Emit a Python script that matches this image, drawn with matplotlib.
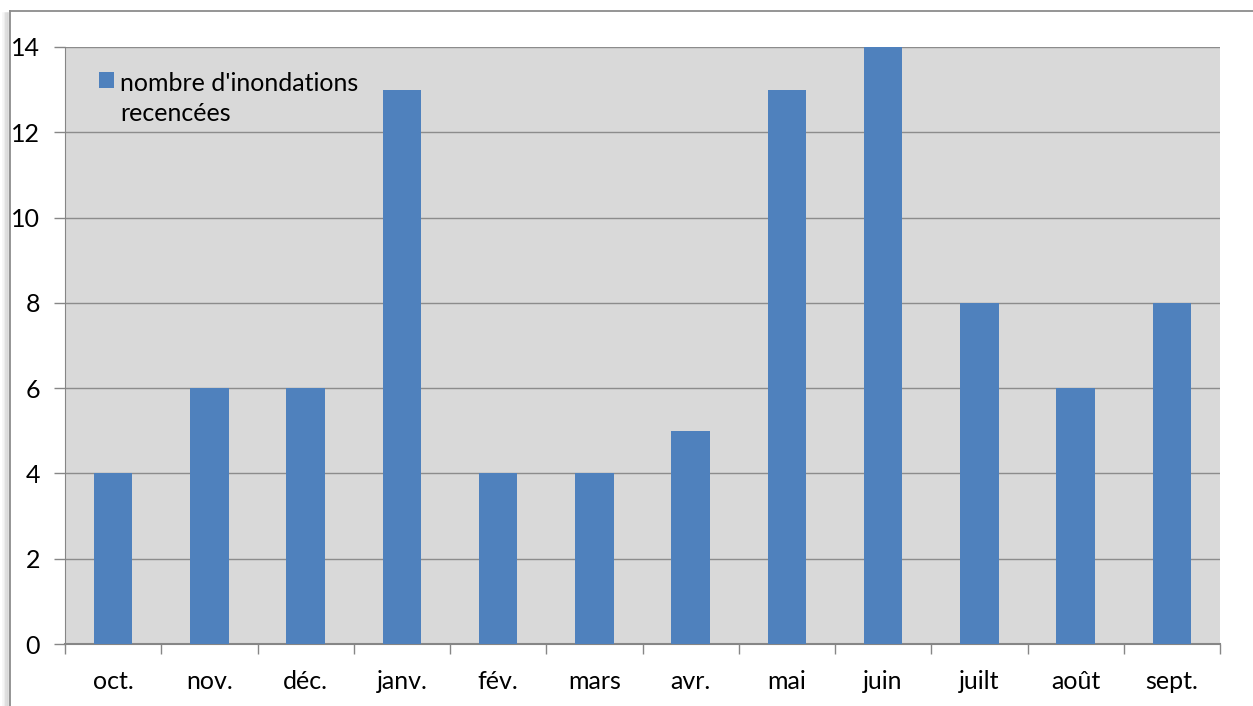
import matplotlib
matplotlib.use("Agg")
import matplotlib.pyplot as plt
from matplotlib.patches import Patch, Rectangle
from matplotlib.lines import Line2D
from matplotlib.legend_handler import HandlerBase

months = ["oct.", "nov.", "déc.", "janv.", "fév.", "mars", "avr.", "mai", "juin", "juilt", "août", "sept."]
values = [4, 6, 6, 13, 4, 4, 5, 13, 14, 8, 6, 8]
yticks = [0, 2, 4, 6, 8, 10, 12, 14]
series_label = "nombre d'inondations\nrecencées"

plt.rcParams['font.family'] = ['Lato', 'DejaVu Sans']
FS = 18
BAR_COLOR = "#4f81bd"


class TopSquareHandler(HandlerBase):
    """Draws the legend square aligned with the first text line."""
    def __init__(self, dy=0, **kw):
        super().__init__(**kw)
        self.dy = dy

    def create_artists(self, legend, orig_handle, xdescent, ydescent, width, height, fontsize, trans):
        r = Rectangle((-xdescent, -ydescent + self.dy), width, height,
                      facecolor=orig_handle.get_facecolor(), edgecolor="none", transform=trans)
        return [r]


W, H = 1253, 706
fig = plt.figure(figsize=(W / 100, H / 100), dpi=100)
fig.patch.set_facecolor("white")

# outer chart border with left shadow
for i, a in enumerate([0.08, 0.12, 0.18, 0.25]):
    fig.add_artist(Line2D([(3 + i * 1.7) / W] * 2, [0, 1 - 13 / H], transform=fig.transFigure,
                          color="#808080", alpha=a, lw=1.8))
fig.add_artist(Line2D([10 / W, 10 / W], [0, 1 - 11 / H], transform=fig.transFigure, color="#8c8c8c", lw=1.3))
fig.add_artist(Line2D([10 / W, 1], [1 - 11 / H, 1 - 11 / H], transform=fig.transFigure, color="#8c8c8c", lw=1.3))

ax = fig.add_axes([65 / W, 62 / H, (1220 - 65) / W, (644 - 47) / H])
ax.set_facecolor("#d9d9d9")

x = list(range(len(months)))
ax.bar(x, values, width=0.4, color=BAR_COLOR, zorder=3, label=series_label)

ax.set_xlim(-0.5, len(months) - 0.5)
ax.set_ylim(0, 14)
ax.set_yticks(yticks)
ax.set_yticklabels([str(v) for v in yticks])
ax.set_xticks(x)
ax.set_xticklabels(months)
ax.set_xticks([i - 0.5 for i in range(len(months) + 1)], minor=True)
ax.tick_params(axis="x", which="major", length=0, pad=19, labelsize=FS, colors="black")
ax.tick_params(axis="x", which="minor", length=7, width=1, color="#868686", direction="out")
ax.tick_params(axis="y", length=8, width=1, color="#868686", direction="out", pad=10, labelsize=FS)

ax.grid(axis="y", color="#8c8c8c", lw=1, zorder=1)
ax.set_axisbelow(True)
for s in ["top", "right"]:
    ax.spines[s].set_visible(False)
ax.spines["left"].set_color("#868686")
ax.spines["bottom"].set_color("#868686")
ax.spines["bottom"].set_linewidth(1.5)

handle = Patch(facecolor=BAR_COLOR, label=series_label)
leg = ax.legend(handles=[handle], loc="upper left",
                bbox_to_anchor=(0.0205, 0.975), frameon=False, fontsize=FS,
                handlelength=0.62, handleheight=0.62, handletextpad=0.25, borderaxespad=0,
                handler_map={Patch: TopSquareHandler(dy=14)})
for t in leg.get_texts():
    t.set_linespacing(1.38)

fig.savefig("out.png", dpi=100)
